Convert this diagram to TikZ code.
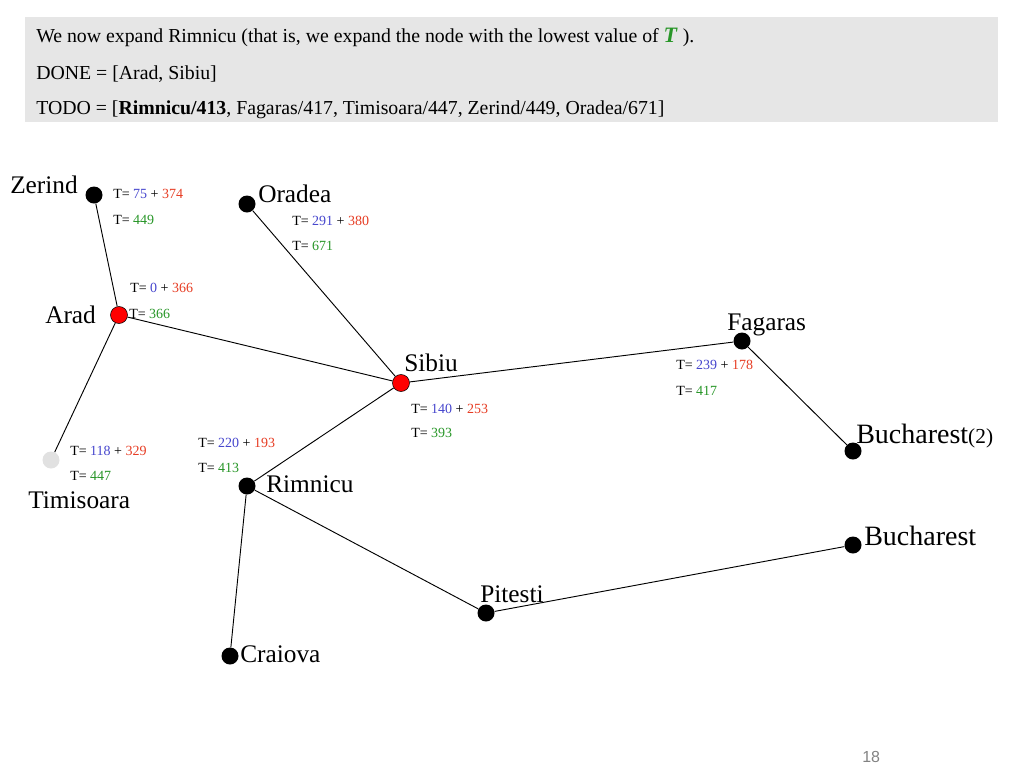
\documentclass[tikz,border=0pt]{standalone}
\usepackage{fontspec}
\setmainfont{Liberation Serif}
\newfontfamily\pgnumfont{Liberation Sans}
\definecolor{hdrgray}{RGB}{230,230,230}
\definecolor{gcol}{RGB}{40,150,40}
\definecolor{bcol}{RGB}{70,70,205}
\definecolor{rcol}{RGB}{230,60,35}
\definecolor{timgray}{RGB}{225,225,225}
\definecolor{pgcol}{RGB}{130,130,130}
\tikzset{
  dot/.style={circle,fill=black,minimum size=12.75pt,inner sep=0pt},
  reddot/.style={circle,fill=red,draw=black,line width=0.4pt,minimum size=12.75pt,inner sep=0pt},
  greydot/.style={circle,fill=timgray,minimum size=12.75pt,inner sep=0pt},
  city/.style={anchor=base west,inner sep=0pt,font=\fontsize{19}{22}\selectfont},
  bigcity/.style={anchor=base west,inner sep=0pt,font=\fontsize{21}{24}\selectfont},
  tlab/.style={anchor=base west,inner sep=0pt,font=\fontsize{10.5}{12}\selectfont},
  hdr/.style={anchor=base west,inner sep=0pt,font=\fontsize{14.85}{17}\selectfont},
  edge/.style={line width=0.7pt,black}
}
\newcommand{\tsum}[2]{T= \textcolor{bcol}{#1} + \textcolor{rcol}{#2}}
\newcommand{\ttot}[1]{T= \textcolor{gcol}{#1}}
\begin{document}
\begin{tikzpicture}[x=0.75pt,y=-0.75pt]
\useasboundingbox (0,0) rectangle (1024,768);
% header
\fill[hdrgray] (25,17) rectangle (998,122);
\node[hdr] (h1) at (36,42) {We now expand Rimnicu (that is, we expand the node with the lowest value of \textcolor{gcol}{\fontsize{16.5}{18}\selectfont\textbf{\textit{T}}} ).};
\node[hdr] (h2) at (36,79) {DONE = [Arad, Sibiu]};
\node[hdr] (h3) at (36,114) {TODO = [\textbf{Rimnicu/413}, Fagaras/417, Timisoara/447, Zerind/449, Oradea/671]};
% nodes
\node[dot] (zer) at (94,195) {};
\node[dot] (ora) at (247,204) {};
\node[reddot] (ara) at (119,315) {};
\node[reddot] (sib) at (401,383) {};
\node[dot] (fag) at (742,341) {};
\node[dot] (buc2) at (853,451) {};
\node[greydot] (tim) at (51,460) {};
\node[dot] (rim) at (247,486) {};
\node[dot] (buc) at (853,545) {};
\node[dot] (pit) at (486,613) {};
\node[dot] (cra) at (230,656) {};
% edges
\draw[edge] (zer) -- (ara);
\draw[edge] (ara) -- (sib);
\draw[edge] (ara) -- (tim);
\draw[edge] (ora) -- (sib);
\draw[edge] (sib) -- (fag);
\draw[edge] (fag) -- (buc2);
\draw[edge] (sib) -- (rim);
\draw[edge] (rim) -- (cra);
\draw[edge] (rim) -- (pit);
\draw[edge] (pit) -- (buc);
% city labels
\node[city] (lzer) at (10,193) {Zerind};
\node[city] (lora) at (258,202) {Oradea};
\node[city] (lara) at (45,323) {Arad};
\node[city] (lsib) at (404,371) {Sibiu};
\node[city] (lfag) at (727,330) {Fagaras};
\node[bigcity] (lbuc2) at (856,443) {Bucharest{\fontsize{16}{18}\selectfont(2)}};
\node[city] (ltim) at (28,508) {Timisoara};
\node[city] (lrim) at (266,492) {Rimnicu};
\node[bigcity] (lbuc) at (864,545) {Bucharest};
\node[city] (lpit) at (480,602) {Pitesti};
\node[city] (lcra) at (240,662) {Craiova};
% T labels
\node[tlab] (tz1) at (113,198) {\tsum{75}{374}};
\node[tlab] (tz2) at (113,224) {\ttot{449}};
\node[tlab] (to1) at (292,225) {\tsum{291}{380}};
\node[tlab] (to2) at (292,250) {\ttot{671}};
\node[tlab] (ta1) at (130,292) {\tsum{0}{366}};
\node[tlab] (ta2) at (129,318) {\ttot{366}};
\node[tlab] (ts1) at (411,413) {\tsum{140}{253}};
\node[tlab] (ts2) at (411,437) {\ttot{393}};
\node[tlab] (tf1) at (676,369) {\tsum{239}{178}};
\node[tlab] (tf2) at (676,395) {\ttot{417}};
\node[tlab] (tt1) at (70,455) {\tsum{118}{329}};
\node[tlab] (tt2) at (70,480) {\ttot{447}};
\node[tlab] (tr1) at (198,447) {\tsum{220}{193}};
\node[tlab] (tr2) at (198,472) {\ttot{413}};
% page number
\node[anchor=base west,inner sep=0pt,font=\pgnumfont\fontsize{12}{14}\selectfont,text=pgcol] (pg) at (862,762) {18};
\end{tikzpicture}
\end{document}
